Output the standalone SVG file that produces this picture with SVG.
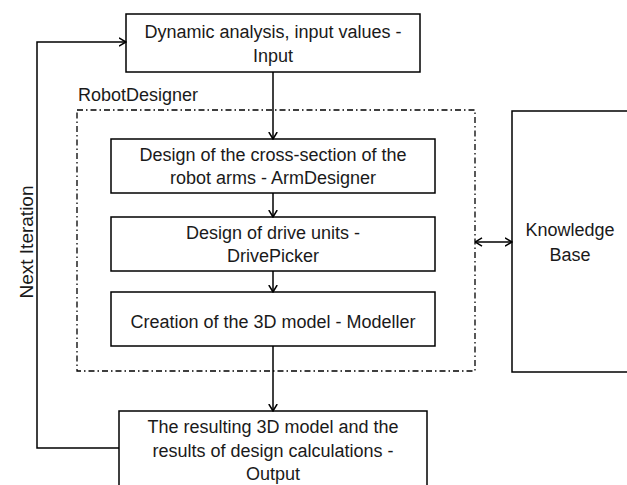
<svg xmlns="http://www.w3.org/2000/svg" width="627" height="485" viewBox="0 0 627 485">
<defs>
<style>
.box{fill:#fff;stroke:#000;stroke-width:1.5}
.t{font-family:"Liberation Sans",Arial,sans-serif;font-size:18px;fill:#1a1a1a;text-anchor:middle}
.tl{font-family:"Liberation Sans",Arial,sans-serif;font-size:18px;fill:#1a1a1a}
.c{fill:none;stroke:#000;stroke-width:1.5}
.dd{fill:none;stroke:#000;stroke-width:1.3;stroke-dasharray:6 3 1.5 3}
</style>
<marker id="ah" viewBox="0 0 8 10" refX="7.5" refY="5" markerWidth="8" markerHeight="10" markerUnits="userSpaceOnUse" orient="auto-start-reverse">
<path d="M0.5,0.8 L7.5,5 L0.5,9.2" fill="none" stroke="#000" stroke-width="1.5"/>
</marker>
</defs>
<g id="robotdesigner">
<rect class="dd" x="77" y="110" width="398" height="261"/>
<text class="tl" x="78" y="101">RobotDesigner</text>
</g>
<g id="input">
<rect class="box" x="126" y="14" width="294" height="58"/>
<text class="t" x="273" y="38">Dynamic analysis, input values -</text>
<text class="t" x="273" y="62">Input</text>
</g>
<g id="armdesigner">
<rect class="box" x="111" y="139" width="324" height="54"/>
<text class="t" x="273" y="161">Design of the cross-section of the</text>
<text class="t" x="273" y="184">robot arms - ArmDesigner</text>
</g>
<g id="drivepicker">
<rect class="box" x="111" y="217" width="324" height="54"/>
<text class="t" x="273" y="239">Design of drive units -</text>
<text class="t" x="273" y="262">DrivePicker</text>
</g>
<g id="modeller">
<rect class="box" x="111" y="292" width="324" height="54"/>
<text class="t" x="273" y="328">Creation of the 3D model - Modeller</text>
</g>
<g id="output">
<rect class="box" x="119" y="411" width="308" height="100"/>
<text class="t" x="273" y="433">The resulting 3D model and the</text>
<text class="t" x="273" y="457">results of design calculations -</text>
<text class="t" x="273" y="480">Output</text>
</g>
<g id="knowledgebase">
<rect class="box" x="512" y="111" width="200" height="261"/>
<text class="t" x="570" y="236">Knowledge</text>
<text class="t" x="570" y="261">Base</text>
</g>
<g id="connectors">
<line class="c" x1="273" y1="72" x2="273" y2="139" marker-end="url(#ah)"/>
<line class="c" x1="273" y1="193" x2="273" y2="217" marker-end="url(#ah)"/>
<line class="c" x1="273" y1="271" x2="273" y2="292" marker-end="url(#ah)"/>
<line class="c" x1="273" y1="346" x2="273" y2="411" marker-end="url(#ah)"/>
<line class="c" x1="475" y1="242" x2="512" y2="242" marker-start="url(#ah)" marker-end="url(#ah)"/>
<polyline class="c" points="119,448 37,448 37,42 126,42" marker-end="url(#ah)"/>
<text class="t" transform="translate(33,242) rotate(-90)" style="font-size:19px">Next Iteration</text>
</g>
</svg>
